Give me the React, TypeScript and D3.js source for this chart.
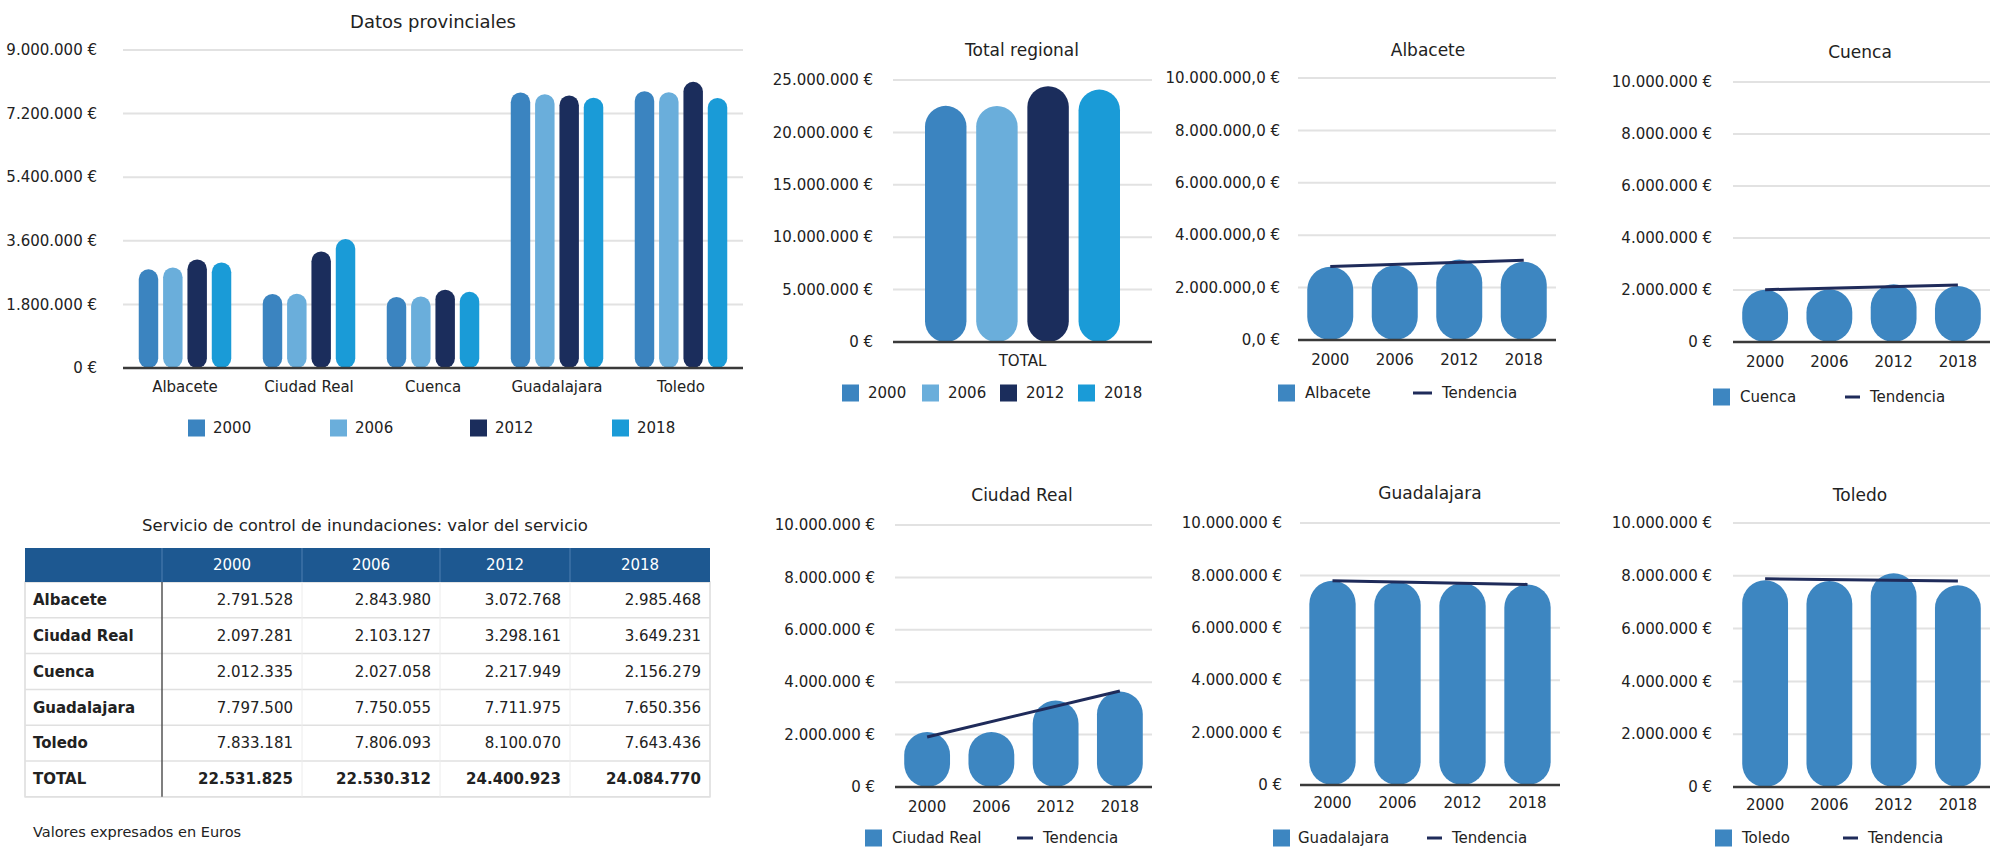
import React from "react";
import * as d3 from "d3";

// ---------- DATA ----------
const years = ["2000", "2006", "2012", "2018"];
const provinces = ["Albacete", "Ciudad Real", "Cuenca", "Guadalajara", "Toledo"];
const v2000 = [2791528, 2097281, 2012335, 7797500, 7833181];
const v2006 = [2843980, 2103127, 2027058, 7750055, 7806093];
const v2012 = [3072768, 3298161, 2217949, 7711975, 8100070];
const v2018 = [2985468, 3649231, 2156279, 7650356, 7643436];
const totals = [22531825, 22530312, 24400923, 24084770];
const provincialTicks = [0, 1800000, 3600000, 5400000, 7200000, 9000000];
const totalTicks = [0, 5000000, 10000000, 15000000, 20000000, 25000000];
const smallTicks = [0, 2000000, 4000000, 6000000, 8000000, 10000000];
const totalCategory = "TOTAL";
const provincialTitle = "Datos provinciales";
const totalTitle = "Total regional";
const tableTitle = "Servicio de control de inundaciones: valor del servicio";
const footnote = "Valores expresados en Euros";
const trendLabel = "Tendencia";

const yearSeries = [v2000, v2006, v2012, v2018];

// ---------- STYLE ----------
const FONT = "'DejaVu Sans', Verdana, sans-serif";
const yearColors = ["#3b84c0", "#6aaedb", "#1b2d5c", "#1a9bd7"];
const provColor = "#3d86c1";
const trendColor = "#1f2b5a";
const gridColor = "#e2e2e2";
const axisColor = "#3a3a3a";
const textColor = "#222";

const locale = d3.formatLocale({ decimal: ",", thousands: ".", grouping: [3], currency: ["", " €"] });
const fmt0 = locale.format(",.0f");
const fmt1 = locale.format(",.1f");
const eur0 = (v: number) => fmt0(v) + " €";
const eur1 = (v: number) => fmt1(v) + " €";

function Pill({ x, w, yTop, yBase, fill }: any) {
  const h = yBase - yTop;
  const r = Math.min(w / 2, h / 2);
  return <rect x={x} y={yTop} width={w} height={h} rx={r} ry={r} fill={fill} />;
}

function YAxis({ ticks, y, x0, x1, labelRight, fmt }: any) {
  return (
    <g>
      {ticks.map((t: number) =>
        t === 0 ? null : (
          <line key={"g" + t} x1={x0} x2={x1} y1={y(t)} y2={y(t)} stroke={gridColor} strokeWidth={2} />
        )
      )}
      {ticks.map((t: number) => (
        <text key={"t" + t} x={labelRight} y={y(t)} dy="0.35em" textAnchor="end" fontSize={15} fill={textColor} fontFamily={FONT}>
          {fmt(t)}
        </text>
      ))}
    </g>
  );
}

function ProvincialChart() {
  const X0 = 123, X1 = 743;
  const x0 = d3.scaleBand().domain(provinces).range([X0, X1]).paddingInner(0.254).paddingOuter(0.127);
  const x1 = d3.scaleBand().domain(years).range([0, x0.bandwidth()]).paddingInner(0.2);
  const y = d3.scaleLinear().domain([0, 9000000]).range([368, 50]);
  const legendX = [188, 330, 470, 612];
  return (
    <g>
      <text x={433} y={22} dy="0.35em" textAnchor="middle" fontSize={18} fill={textColor} fontFamily={FONT}>{provincialTitle}</text>
      <YAxis ticks={provincialTicks} y={y} x0={X0} x1={X1} labelRight={97} fmt={eur0} />
      {provinces.map((p, i) => (
        <g key={p}>
          {years.map((yr, j) => (
            <Pill key={yr} x={(x0(p) as number) + (x1(yr) as number)} w={x1.bandwidth()} yTop={y(yearSeries[j][i])} yBase={y(0)} fill={yearColors[j]} />
          ))}
          <text x={(x0(p) as number) + x0.bandwidth() / 2} y={387} dy="0.35em" textAnchor="middle" fontSize={15} fill={textColor} fontFamily={FONT}>{p}</text>
        </g>
      ))}
      <line x1={X0} x2={X1} y1={y(0)} y2={y(0)} stroke={axisColor} strokeWidth={2.5} />
      {years.map((yr, j) => (
        <g key={yr}>
          <rect x={legendX[j]} y={428 - 8.5} width={17} height={17} fill={yearColors[j]} />
          <text x={legendX[j] + 25} y={428} dy="0.35em" fontSize={15} fill={textColor} fontFamily={FONT}>{yr}</text>
        </g>
      ))}
    </g>
  );
}

function TotalChart() {
  const X0 = 893, X1 = 1152;
  const x0 = d3.scaleBand().domain([totalCategory]).range([X0, X1]).paddingInner(0.141).paddingOuter(0.141);
  const x1 = d3.scaleBand().domain(years).range([0, x0.bandwidth()]).paddingInner(0.19);
  const y = d3.scaleLinear().domain([0, 25000000]).range([342, 80]);
  const legendX = [842, 922, 1000, 1078];
  return (
    <g>
      <text x={1022} y={50} dy="0.35em" textAnchor="middle" fontSize={17} fill={textColor} fontFamily={FONT}>{totalTitle}</text>
      <YAxis ticks={totalTicks} y={y} x0={X0} x1={X1} labelRight={873} fmt={eur0} />
      {years.map((yr, j) => (
        <Pill key={yr} x={(x0(totalCategory) as number) + (x1(yr) as number)} w={x1.bandwidth()} yTop={y(totals[j])} yBase={y(0)} fill={yearColors[j]} />
      ))}
      <line x1={X0} x2={X1} y1={y(0)} y2={y(0)} stroke={axisColor} strokeWidth={2.5} />
      <text x={(x0(totalCategory) as number) + x0.bandwidth() / 2} y={361} dy="0.35em" textAnchor="middle" fontSize={15} fill={textColor} fontFamily={FONT}>{totalCategory}</text>
      {years.map((yr, j) => (
        <g key={yr}>
          <rect x={legendX[j]} y={393 - 8.5} width={17} height={17} fill={yearColors[j]} />
          <text x={legendX[j] + 26} y={393} dy="0.35em" fontSize={15} fill={textColor} fontFamily={FONT}>{yr}</text>
        </g>
      ))}
    </g>
  );
}

const smallLayouts = [
  { idx: 0, tx: 1428, ty: 50, labelRight: 1280, gx0: 1298, gx1: 1556, yBase: 340, yTop: 78, xLabelY: 360, legY: 393, sqX: 1278, txtX: 1305, lnX0: 1413, lnX1: 1432, tendX: 1442, dec: 1 },
  { idx: 2, tx: 1860, ty: 52, labelRight: 1712, gx0: 1733, gx1: 1990, yBase: 342, yTop: 82, xLabelY: 362, legY: 397, sqX: 1713, txtX: 1740, lnX0: 1845, lnX1: 1860, tendX: 1870, dec: 0 },
  { idx: 1, tx: 1022, ty: 495, labelRight: 875, gx0: 895, gx1: 1152, yBase: 787, yTop: 525, xLabelY: 807, legY: 838, sqX: 865, txtX: 892, lnX0: 1017, lnX1: 1033, tendX: 1043, dec: 0 },
  { idx: 3, tx: 1430, ty: 493, labelRight: 1282, gx0: 1300, gx1: 1560, yBase: 785, yTop: 523, xLabelY: 803, legY: 838, sqX: 1273, txtX: 1298, lnX0: 1427, lnX1: 1442, tendX: 1452, dec: 0 },
  { idx: 4, tx: 1860, ty: 495, labelRight: 1712, gx0: 1733, gx1: 1990, yBase: 787, yTop: 523, xLabelY: 805, legY: 838, sqX: 1715, txtX: 1742, lnX0: 1843, lnX1: 1858, tendX: 1868, dec: 0 },
];

function SmallChart({ L }: any) {
  const name = provinces[L.idx];
  const values = yearSeries.map((s) => s[L.idx]);
  const x = d3.scaleBand().domain(years).range([L.gx0, L.gx1]).paddingInner(0.287).paddingOuter(0.1435);
  const y = d3.scaleLinear().domain([0, 10000000]).range([L.yBase, L.yTop]);
  // least-squares trend line
  const idxs = values.map((_, i) => i);
  const mx = d3.mean(idxs) as number;
  const my = d3.mean(values) as number;
  const slope = d3.sum(idxs, (i) => (i - mx) * (values[i] - my)) / d3.sum(idxs, (i) => (i - mx) * (i - mx));
  const trend = idxs.map((i) => my + slope * (i - mx));
  const trendPts = [trend[0], trend[trend.length - 1]];
  const lineEnds = d3
    .line<number>()
    .x((_, i) => (x(years[i === 0 ? 0 : years.length - 1]) as number) + x.bandwidth() / 2)
    .y((d) => y(d));
  return (
    <g>
      <text x={L.tx} y={L.ty} dy="0.35em" textAnchor="middle" fontSize={17} fill={textColor} fontFamily={FONT}>{name}</text>
      <YAxis ticks={smallTicks} y={y} x0={L.gx0} x1={L.gx1} labelRight={L.labelRight} fmt={L.dec ? eur1 : eur0} />
      {years.map((yr, j) => (
        <Pill key={yr} x={x(yr)} w={x.bandwidth()} yTop={y(values[j])} yBase={y(0)} fill={provColor} />
      ))}
      <line x1={L.gx0} x2={L.gx1} y1={y(0)} y2={y(0)} stroke={axisColor} strokeWidth={2.5} />
      <path d={lineEnds(trendPts) as string} stroke={trendColor} strokeWidth={3} fill="none" />
      {years.map((yr) => (
        <text key={yr} x={(x(yr) as number) + x.bandwidth() / 2} y={L.xLabelY} dy="0.35em" textAnchor="middle" fontSize={15} fill={textColor} fontFamily={FONT}>{yr}</text>
      ))}
      <rect x={L.sqX} y={L.legY - 8.5} width={17} height={17} fill={provColor} />
      <text x={L.txtX} y={L.legY} dy="0.35em" fontSize={15} fill={textColor} fontFamily={FONT}>{name}</text>
      <line x1={L.lnX0} x2={L.lnX1} y1={L.legY} y2={L.legY} stroke={trendColor} strokeWidth={3} />
      <text x={L.tendX} y={L.legY} dy="0.35em" fontSize={15} fill={textColor} fontFamily={FONT}>{trendLabel}</text>
    </g>
  );
}

function DataTable() {
  const colX = [25, 162, 302, 440, 570, 710];
  const headTop = 548, headH = 34, rowH = 35.8;
  const rows = [
    ...provinces.map((p, i) => ({ label: p, vals: yearSeries.map((s) => s[i]), bold: false })),
    { label: totalCategory, vals: totals, bold: true },
  ];
  const bodyTop = headTop + headH;
  const bottom = bodyTop + rowH * rows.length;
  return (
    <g fontFamily={FONT}>
      <text x={365} y={525} dy="0.35em" textAnchor="middle" fontSize={16.5} fill={textColor}>{tableTitle}</text>
      <rect x={colX[0]} y={bodyTop} width={colX[5] - colX[0]} height={bottom - bodyTop} fill="#fff" stroke="#dcdcdc" strokeWidth={1.5} />
      {rows.map((r, i) => (
        <line key={"r" + i} x1={colX[0]} x2={colX[5]} y1={bodyTop + rowH * (i + 1)} y2={bodyTop + rowH * (i + 1)} stroke="#e0e0e0" strokeWidth={1.5} />
      ))}
      {colX.slice(2, 5).map((cx) => (
        <line key={"c" + cx} x1={cx} x2={cx} y1={bodyTop} y2={bottom} stroke="#ececec" strokeWidth={1} />
      ))}
      <line x1={colX[1]} x2={colX[1]} y1={bodyTop} y2={bottom} stroke="#555" strokeWidth={1.5} />
      <rect x={colX[0]} y={headTop} width={colX[5] - colX[0]} height={headH} fill="#1d5891" />
      {colX.slice(1, 5).map((cx) => (
        <line key={"h" + cx} x1={cx} x2={cx} y1={headTop} y2={headTop + headH} stroke="#4f7fb1" strokeWidth={1} />
      ))}
      {years.map((yr, j) => (
        <text key={yr} x={(colX[j + 1] + colX[j + 2]) / 2} y={headTop + headH / 2} dy="0.35em" textAnchor="middle" fontSize={15} fill="#fff">{yr}</text>
      ))}
      {rows.map((r, i) => {
        const cy = bodyTop + rowH * i + rowH / 2;
        return (
          <g key={r.label}>
            <text x={33} y={cy} dy="0.35em" fontSize={15} fontWeight="bold" fill={textColor}>{r.label}</text>
            {r.vals.map((v, j) => (
              <text key={j} x={colX[j + 2] - 9} y={cy} dy="0.35em" textAnchor="end" fontSize={15} fontWeight={r.bold ? "bold" : "normal"} fill={textColor}>{fmt0(v)}</text>
            ))}
          </g>
        );
      })}
      <text x={33} y={832} dy="0.35em" fontSize={14.5} fill={textColor}>{footnote}</text>
    </g>
  );
}

export default function App() {
  return (
    <svg width={2000} height={848} style={{ position: "absolute", left: 0, top: 0, background: "#fff" }}>
      <rect x={0} y={0} width={2000} height={848} fill="#fff" />
      <ProvincialChart />
      <TotalChart />
      {smallLayouts.map((L) => (
        <SmallChart key={L.idx} L={L} />
      ))}
      <DataTable />
    </svg>
  );
}
